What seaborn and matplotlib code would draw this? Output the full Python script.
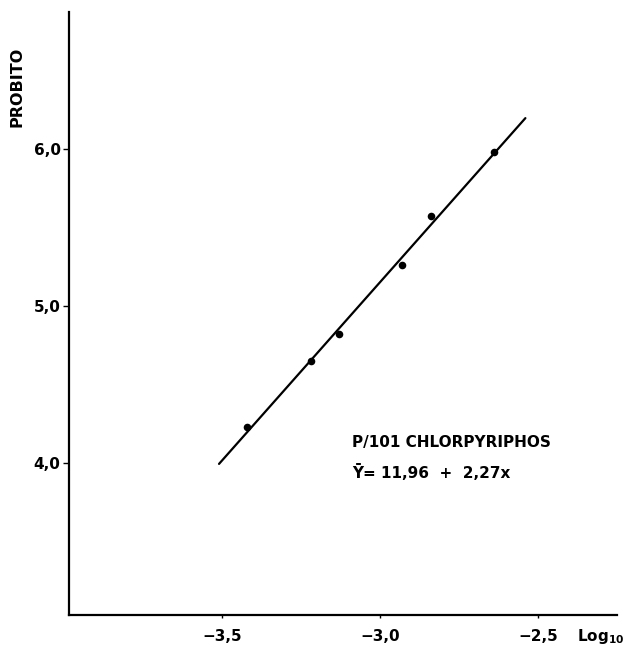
import numpy as np
import pandas as pd
import matplotlib
matplotlib.use("Agg")
import matplotlib.pyplot as plt
import seaborn as sns

# Observed probit values against log10 concentration
log_dose = [-3.42, -3.22, -3.13, -2.93, -2.84, -2.64]
probit = [4.23, 4.65, 4.82, 5.26, 5.57, 5.98]

# Fitted probit line: Y = 11.96 + 2.27 x
intercept = 11.96
slope = 2.27
fit_range = [-3.51, -2.54]

x_ticks = [-3.5, -3.0, -2.5]
x_tick_labels = ["\u22123,5", "\u22123,0", "\u22122,5"]
y_ticks = [4.0, 5.0, 6.0]
y_tick_labels = ["4,0", "5,0", "6,0"]

sns.set_style("ticks")
plt.rcParams["font.family"] = ["DejaVu Sans"]
plt.rcParams["font.weight"] = "bold"
plt.rcParams["text.color"] = "black"

fig = plt.figure(figsize=(6.26, 6.52), dpi=100)
ax = fig.add_axes([0.1102, 0.0567, 0.8754, 0.9249])

points = pd.DataFrame({"log_dose": log_dose, "probit": probit})
fit_x = np.array(fit_range)
fit = pd.DataFrame({"log_dose": fit_x, "probit": intercept + slope * fit_x})

sns.lineplot(data=fit, x="log_dose", y="probit", color="black", linewidth=1.6, ax=ax)
sns.scatterplot(data=points, x="log_dose", y="probit", color="black", s=30,
                edgecolor="black", linewidth=0, ax=ax, zorder=3)

ax.set_xlim(-3.985, -2.25)
ax.set_ylim(3.03, 6.87)
sns.despine(ax=ax)
for side in ("left", "bottom"):
    ax.spines[side].set_linewidth(1.6)
    ax.spines[side].set_color("black")

ax.set_xticks(x_ticks)
ax.set_xticklabels(x_tick_labels, fontsize=11, fontweight="bold", color="black")
ax.set_yticks(y_ticks)
ax.set_yticklabels(y_tick_labels, fontsize=11, fontweight="bold", color="black")
ax.tick_params(axis="x", length=2, width=1, pad=8, colors="black")
ax.tick_params(axis="y", length=4, width=1, pad=2, colors="black")
ax.set_xlabel("")
ax.set_ylabel("")

fig.text(0.027, 0.867, "PROBITO", rotation=90, ha="center", va="center",
         fontsize=11.5, fontweight="bold", color="black")
fig.text(0.922, 0.0245, "Log$_{\\mathbf{10}}$", ha="left", va="center",
         fontsize=11, fontweight="bold", color="black")

fig.text(352 / 626, 1 - 442 / 652, "P/101 CHLORPYRIPHOS",
         ha="left", va="center", fontsize=11, fontweight="bold", color="black")
fig.text(352 / 626, 1 - 472 / 652, "\u0232= 11,96  +  2,27x",
         ha="left", va="center", fontsize=11, fontweight="bold", color="black")

fig.savefig("out.png", dpi=100, facecolor="white")
